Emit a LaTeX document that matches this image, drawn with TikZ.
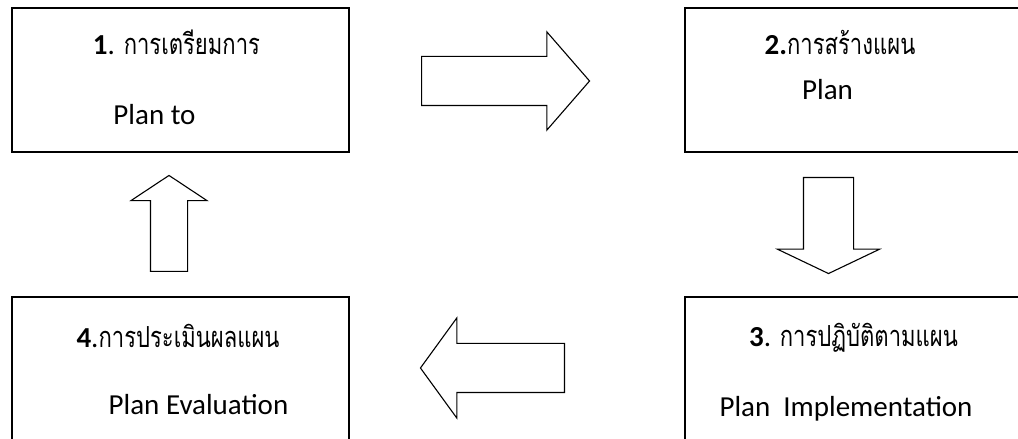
\documentclass[tikz,border=0pt]{standalone}
\usepackage{fontspec}
\setmainfont{Carlito}
\newfontfamily\thaifont[Script=Thai, Scale=1.0, FakeStretch=0.76]{Loma}
\usetikzlibrary{shapes.arrows}
\tikzset{
    plan-box/.style = {draw=black, line width=1.6pt, rectangle, inner sep=0pt, minimum width=337pt, minimum height=144pt},
    plan-arrow/.style = {draw=black, line width=1.1pt, fill=white, single arrow, inner xsep=0pt, anchor=tail},
    plan-text/.style = {anchor=base, inner sep=0pt, font=\fontsize{29}{33}\selectfont},
}

\begin{document}
\begin{tikzpicture}[x=1pt, y=1pt]
\clip (0,0) rectangle (1018,439);
\node [plan-box] (prepare) at (180.5,359) {};
\node [plan-box, minimum width=345pt] (make) at (857.5,359) {};
\node [plan-box, minimum width=345pt, minimum height=163pt] (follow) at (857.5,60.5) {};
\node [plan-box, minimum height=163pt] (evaluate) at (180.5,60.5) {};

\node [plan-text] (prepare-th) at (176.5,384) {\textbf{1}. {\thaifont การเตรียมการ}};
\node [plan-text] (prepare-en) at (154.5,314) {Plan to};
\node [plan-text] (make-th) at (840,384) {\textbf{2.}{\thaifont การสร้างแผน}};
\node [plan-text] (make-en) at (827.5,339) {Plan};
\node [plan-text] (follow-th) at (853.5,92) {\textbf{3}. {\thaifont การปฏิบัติตามแผน}};
\node [plan-text] (follow-en) at (846,22) {Plan\ \ Implementation};
\node [plan-text] (evaluate-th) at (178,91) {\textbf{4}.{\thaifont การประเมินผลแผน}};
\node [plan-text] (evaluate-en) at (198.5,24) {Plan Evaluation};

\node [plan-arrow, minimum height=168pt, inner ysep=24pt, single arrow head extend=24.5pt, single arrow tip angle=98] (prepare-make) at (421,358) {};
\node [plan-arrow, rotate=-90, minimum height=96pt, inner ysep=24.5pt, single arrow head extend=26pt, single arrow tip angle=129] (make-follow) at (828.5,262) {};
\node [plan-arrow, rotate=180, minimum height=144pt, inner ysep=24pt, single arrow head extend=25.5pt, single arrow tip angle=108] (follow-evaluate) at (565,71) {};
\node [plan-arrow, rotate=90, minimum height=96pt, inner ysep=18pt, single arrow head extend=19.5pt, single arrow tip angle=113] (evaluate-prepare) at (169,167) {};
\end{tikzpicture}
\end{document}
